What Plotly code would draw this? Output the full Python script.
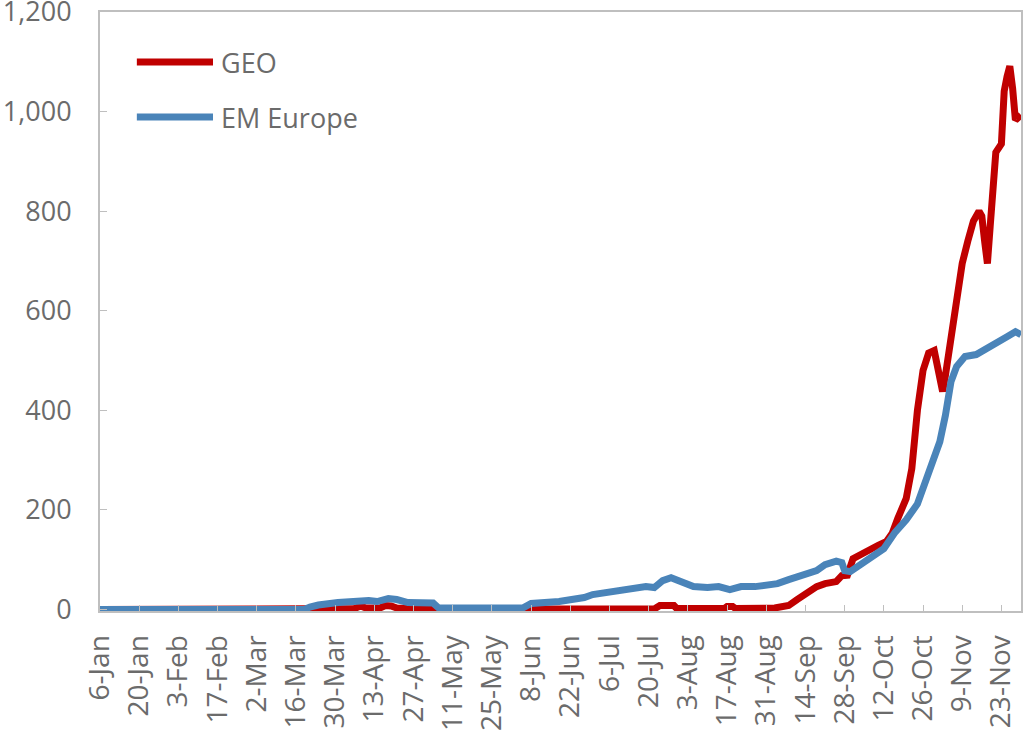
import plotly.graph_objects as go

# ---- data ----
geo_dates = ["2020-01-06", "2020-03-28", "2020-03-30", "2020-04-06", "2020-04-08", "2020-04-10",
             "2020-04-15", "2020-04-17", "2020-04-19", "2020-04-21", "2020-05-04", "2020-05-05",
             "2020-06-07", "2020-06-08", "2020-07-22", "2020-07-24", "2020-07-29", "2020-07-30",
             "2020-08-16", "2020-08-17", "2020-08-19", "2020-08-20", "2020-09-03", "2020-09-08",
             "2020-09-11", "2020-09-13", "2020-09-16", "2020-09-18", "2020-09-21", "2020-09-25",
             "2020-09-27", "2020-09-29", "2020-10-01", "2020-10-04", "2020-10-07", "2020-10-10",
             "2020-10-13", "2020-10-15", "2020-10-17", "2020-10-20", "2020-10-22", "2020-10-23",
             "2020-10-24", "2020-10-26", "2020-10-28", "2020-10-30", "2020-11-01", "2020-11-02",
             "2020-11-03", "2020-11-05", "2020-11-07", "2020-11-09", "2020-11-11", "2020-11-13",
             "2020-11-15", "2020-11-16", "2020-11-17", "2020-11-18", "2020-11-19", "2020-11-20",
             "2020-11-21", "2020-11-23", "2020-11-24", "2020-11-25", "2020-11-26", "2020-11-27",
             "2020-11-28", "2020-11-30"]
geo_values = [0, 0, 2, 2, 7, 3,
              3, 8, 7, 3, 2, 0,
              0, 1, 1, 8, 8, 2,
              2, 6, 6, 2, 3, 8,
              20, 28, 40, 46, 52, 56,
              68, 69, 102, 112, 122, 129,
              137, 153, 183, 223, 283, 344,
              400, 480, 515, 520, 470, 438,
              470, 540, 625, 695, 740, 780,
              800, 790, 740, 695, 770, 866,
              918, 935, 1041, 1070, 1091, 1047,
              983, 993]

em_dates = ["2020-01-06", "2020-03-19", "2020-03-21", "2020-03-24", "2020-03-31", "2020-04-05",
            "2020-04-08", "2020-04-11", "2020-04-14", "2020-04-18", "2020-04-21", "2020-04-25",
            "2020-05-04", "2020-05-06", "2020-06-05", "2020-06-08", "2020-06-18", "2020-06-24",
            "2020-06-27", "2020-06-30", "2020-07-03", "2020-07-09", "2020-07-14", "2020-07-19",
            "2020-07-22", "2020-07-25", "2020-07-28", "2020-08-01", "2020-08-05", "2020-08-10",
            "2020-08-14", "2020-08-18", "2020-08-22", "2020-08-27", "2020-08-31", "2020-09-04",
            "2020-09-08", "2020-09-14", "2020-09-18", "2020-09-21", "2020-09-25", "2020-09-27",
            "2020-09-28", "2020-09-30", "2020-10-03", "2020-10-08", "2020-10-12", "2020-10-16",
            "2020-10-20", "2020-10-24", "2020-10-28", "2020-10-31", "2020-11-01", "2020-11-03",
            "2020-11-04", "2020-11-05", "2020-11-07", "2020-11-10", "2020-11-14", "2020-11-17",
            "2020-11-19", "2020-11-22", "2020-11-25", "2020-11-28", "2020-11-30"]
em_values = [0, 0, 5, 9, 14, 16,
             20, 18, 16, 22, 20, 14,
             13, 3, 3, 12, 16, 20,
             24, 30, 32, 38, 42, 46,
             44, 58, 64, 56, 46, 44,
             46, 40, 46, 46, 48, 52,
             60, 70, 78, 90, 97, 94,
             78, 76, 88, 108, 122, 155,
             180, 212, 270, 320, 337, 390,
             424, 458, 488, 508, 512, 521,
             528, 538, 548, 558, 552]

tick_dates = ["2020-01-06", "2020-01-20", "2020-02-03", "2020-02-17", "2020-03-02", "2020-03-16",
              "2020-03-30", "2020-04-13", "2020-04-27", "2020-05-11", "2020-05-25", "2020-06-08",
              "2020-06-22", "2020-07-06", "2020-07-20", "2020-08-03", "2020-08-17", "2020-08-31",
              "2020-09-14", "2020-09-28", "2020-10-12", "2020-10-26", "2020-11-09", "2020-11-23"]
tick_labels = ["6-Jan", "20-Jan", "3-Feb", "17-Feb", "2-Mar", "16-Mar", "30-Mar", "13-Apr",
               "27-Apr", "11-May", "25-May", "8-Jun", "22-Jun", "6-Jul", "20-Jul", "3-Aug",
               "17-Aug", "31-Aug", "14-Sep", "28-Sep", "12-Oct", "26-Oct", "9-Nov", "23-Nov"]

series_names = ["GEO", "EM Europe"]
RED = "#C00000"
BLUE = "#4A84B9"
GRAY_TXT = "#6B6B6B"
GRAY_LINE = "#BFBFBF"
FONT = "Open Sans"
LW = 7

fig = go.Figure()
fig.add_trace(go.Scatter(x=geo_dates, y=geo_values, mode="lines", name=series_names[0],
                         line=dict(color=RED, width=LW), showlegend=False))
fig.add_trace(go.Scatter(x=em_dates, y=em_values, mode="lines", name=series_names[1],
                         line=dict(color=BLUE, width=LW), showlegend=False))

# manual legend (long line keys like the reference)
legend_rows = [(0.9165, RED, series_names[0]), (0.8247, BLUE, series_names[1])]
for yp, col, name in legend_rows:
    fig.add_shape(type="line", xref="paper", yref="paper", x0=0.040, x1=0.1227, y0=yp, y1=yp,
                  line=dict(color=col, width=LW), layer="above")
    fig.add_annotation(xref="paper", yref="paper", x=0.129, y=yp, text=name, showarrow=False,
                       xanchor="left", yanchor="middle",
                       font=dict(family=FONT, size=27, color=GRAY_TXT))

fig.update_layout(
    width=1023, height=735,
    margin=dict(l=100, r=2, t=12, b=124, autoexpand=False),
    paper_bgcolor="white", plot_bgcolor="white",
    font=dict(family=FONT, size=27, color=GRAY_TXT),
)
fig.update_xaxes(
    type="date", range=["2020-01-06", "2020-11-30"],
    tickvals=tick_dates, ticktext=tick_labels, tickangle=-90,
    ticks="inside", ticklen=6, tickcolor=GRAY_LINE, tickwidth=1,
    showline=True, linecolor=GRAY_LINE, linewidth=2, mirror=True,
    showgrid=False, zeroline=False, ticklabelstandoff=11, automargin=False,
    ticklabeloverflow="allow",
    tickfont=dict(family=FONT, size=28, color=GRAY_TXT),
)
fig.update_yaxes(
    range=[-3, 1200], tickvals=[0, 200, 400, 600, 800, 1000, 1200], tickformat=",",
    ticks="inside", ticklen=7, tickcolor=GRAY_LINE, tickwidth=1,
    showline=True, linecolor=GRAY_LINE, linewidth=2, mirror=True,
    showgrid=False, zeroline=False, ticklabelstandoff=21, automargin=False,
    ticklabeloverflow="allow",
    tickfont=dict(family=FONT, size=27, color=GRAY_TXT),
)

fig.write_html("out.html", config={"displayModeBar": False},
               post_script="document.body.style.margin='0';document.body.style.overflow='hidden';")
